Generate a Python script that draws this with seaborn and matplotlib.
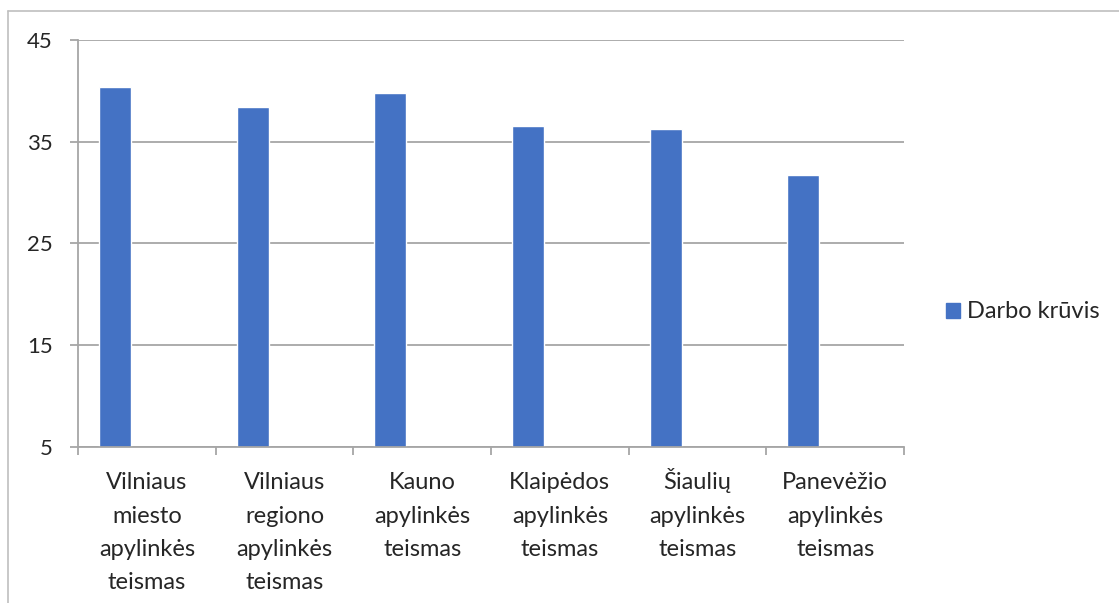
import matplotlib
matplotlib.use("Agg")
import matplotlib.pyplot as plt
import matplotlib.transforms as mtransforms
import seaborn as sns
import pandas as pd
from matplotlib.patches import Patch
from matplotlib.lines import Line2D

teismai = ["Vilniaus\nmiesto\napylinkės\nteismas",
           "Vilniaus\nregiono\napylinkės\nteismas",
           "Kauno\napylinkės\nteismas",
           "Klaipėdos\napylinkės\nteismas",
           "Šiaulių\napylinkės\nteismas",
           "Panevėžio\napylinkės\nteismas"]
darbo_kruvis = [40.4, 38.4, 39.8, 36.5, 36.3, 31.7]
y_ticks = [5, 15, 25, 35, 45]

sns.set_theme(style="white")
plt.rcParams['font.family'] = ['Lato', 'DejaVu Sans']

df = pd.DataFrame({'Teismas': teismai,
                   'Reikšmė': darbo_kruvis,
                   'Serija': 'Darbo krūvis'})

bar_color = '#4472C4'
grid_color = '#A6A6A6'

fig = plt.figure(figsize=(11.19, 6.03), dpi=100)
ax = fig.add_axes([78 / 1119, 1 - 447 / 603, (904 - 78) / 1119, (447 - 40) / 603])

# second (empty) hue slot keeps the bar in the left part of each category, like Excel
sns.barplot(data=df, x='Teismas', y='Reikšmė', hue='Serija',
            hue_order=['Darbo krūvis', ' '], palette=[bar_color, bar_color],
            width=0.928, gap=0.5, dodge=True, saturation=1, ax=ax, legend=False)

ax.set_xlim(-0.5, len(teismai) - 0.5)
ax.set_ylim(5, 45)
ax.set_yticks(y_ticks)
ax.set_xlabel('')
ax.set_ylabel('')

ax.yaxis.grid(True, color=grid_color, linewidth=1.3)
ax.set_axisbelow(True)
for s in ['top', 'right']:
    ax.spines[s].set_visible(False)
for s in ['left', 'bottom']:
    ax.spines[s].set_color(grid_color)
    ax.spines[s].set_linewidth(1.3)

ax.tick_params(axis='y', length=6, width=1.3, color=grid_color, direction='out',
               left=True, labelsize=16, pad=12)
ax.set_xticks([i - 0.5 for i in range(len(teismai) + 1)], minor=True)
ax.tick_params(axis='x', which='minor', length=6, width=1.3, color=grid_color,
               bottom=True, direction='out')
ax.tick_params(axis='x', which='major', length=0, labelbottom=False)

# category labels, one text per line so first lines share a baseline
for i, label in enumerate(teismai):
    for j, line in enumerate(label.split('\n')):
        off = mtransforms.ScaledTranslation(0, -(30.5 + 24 * j) / 72, fig.dpi_scale_trans)
        ax.text(i, 0, line, transform=ax.get_xaxis_transform() + off,
                ha='center', va='baseline', fontsize=17)

fig.legend(handles=[Patch(color=bar_color, label='Darbo krūvis')],
           loc='center left', bbox_to_anchor=(946 / 1119, 1 - 312 / 603),
           frameon=False, fontsize=17, handlelength=0.6, handleheight=0.6,
           handletextpad=0.3, borderaxespad=0, borderpad=0)

# outer chart border (left and top visible)
fig.add_artist(Line2D([8 / 1119, 8 / 1119], [0, 1 - 11 / 603], color='#BFBFBF', linewidth=1.2))
fig.add_artist(Line2D([8 / 1119, 1], [1 - 11 / 603, 1 - 11 / 603], color='#BFBFBF', linewidth=1.2))

fig.savefig('out.png', dpi=100)
plt.close(fig)
